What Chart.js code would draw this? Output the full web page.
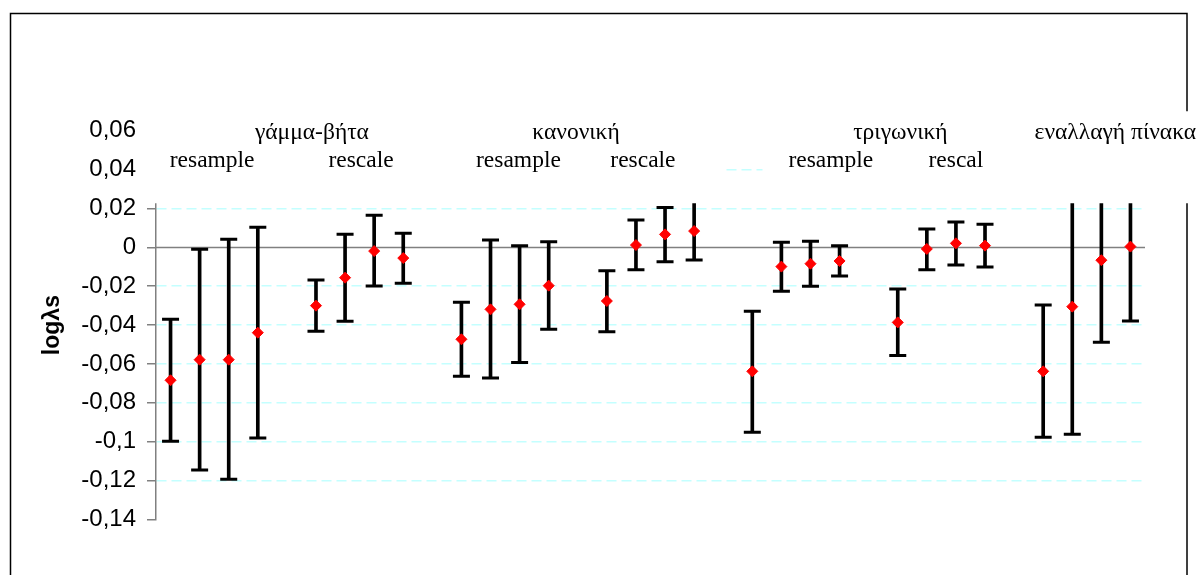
<!DOCTYPE html>
<html>
<head>
<meta charset="utf-8">
<script src="https://cdn.jsdelivr.net/npm/chart.js@4/dist/chart.umd.min.js"></script>
<style>
  html, body { margin: 0; padding: 0; background: #fff; overflow: hidden; }
  #wrap { width: 1202px; height: 575px; position: relative; }
</style>
</head>
<body>
<div id="wrap"><canvas id="c" width="1202" height="575"></canvas></div>
<script>
// Distribution groups and the two estimation methods shown above each block
const groups = ['γάμμα-βήτα', 'κανονική', 'τριγωνική', 'εναλλαγή πίνακα'];
const methods = ['resample', 'rescale', 'resample', 'rescale', 'resample', 'rescal'];

// Block order: (group, method) for each block of four estimates
const blockGroup = [0, 0, 1, 1, 2, 2, 3];
const blockMethod = ['resample', 'rescale', 'resample', 'rescale', 'resample', 'rescal', ''];

// Estimated logλs and the ends of its interval, four per block
const means = [
  -0.0684, -0.0578, -0.0578, -0.0439,
  -0.0300, -0.0156, -0.0019, -0.0055,
  -0.0473, -0.0319, -0.0293, -0.0197,
  -0.0276, 0.0012, 0.0067, 0.0084,
  -0.0638, -0.0099, -0.0084, -0.0070,
  -0.0386, -0.0008, 0.0021, 0.0009,
  -0.0638, -0.0305, -0.0066, 0.0004
];
const upper = [
  -0.0370, -0.0010, 0.0042, 0.0103,
  -0.0168, 0.0067, 0.0165, 0.0073,
  -0.0283, 0.0038, 0.0009, 0.0029,
  -0.0120, 0.0141, 0.0205, 0.0250,
  -0.0329, 0.0026, 0.0031, 0.0009,
  -0.0214, 0.0095, 0.0131, 0.0119,
  -0.0296, 0.0352, 0.0356, 0.0387
];
const lower = [
  -0.0998, -0.1146, -0.1194, -0.0981,
  -0.0432, -0.0380, -0.0199, -0.0185,
  -0.0663, -0.0672, -0.0593, -0.0421,
  -0.0434, -0.0115, -0.0074, -0.0065,
  -0.0952, -0.0226, -0.0200, -0.0147,
  -0.0557, -0.0115, -0.0091, -0.0101,
  -0.0977, -0.0962, -0.0488, -0.0379
];

// Value-axis ticks
const yTickValues = [0.06, 0.04, 0.02, 0, -0.02, -0.04, -0.06, -0.08, -0.1, -0.12, -0.14];
const yTitle = 'logλs';

// ---- layout (text placement in category / value units) ----
const PER_BLOCK = 4;
const SLOT_STRIDE = 5;             // four estimates + one empty slot
const visibleTop = 0.0227;         // plot is shown only below this value
const coverTop = 0.07;
const headRowValue = 0.0558;       // baseline of group headings
const subRowValue = 0.0415;        // baseline of method headings
const groupLabelPos = [4.86, 13.94, 25.09, 32.48];
const methodLabelPos = [1.43, 6.55, 11.96, 16.24, 22.7, 27.0];
const gapWindow = { x1: 19.05, x2: 20.35, y1: 0.044, y2: 0.036 };

const nBlocks = blockGroup.length;
const nSlots = nBlocks * SLOT_STRIDE - 1;
const slotOf = k => Math.floor(k / PER_BLOCK) * SLOT_STRIDE + (k % PER_BLOCK);
const toSlots = arr => {
  const out = new Array(nSlots).fill(null);
  arr.forEach((v, k) => { out[slotOf(k)] = v; });
  return out;
};
const slotLabels = new Array(nSlots).fill('');
means.forEach((_, k) => {
  const b = Math.floor(k / PER_BLOCK);
  slotLabels[slotOf(k)] = groups[blockGroup[b]] + (blockMethod[b] ? ' ' + blockMethod[b] : '') + ' ' + (k % PER_BLOCK + 1);
});
const ranges = means.map((_, k) => [lower[k], upper[k]]);

const fmt = v => {
  const r = Math.round(v * 100) / 100;
  return r === 0 ? '0' : String(r).replace('.', ',');
};

const SANS = "'Liberation Sans', Arial, sans-serif";
const SERIF = "'Liberation Serif', 'Times New Roman', serif";

const decor = {
  id: 'decor',
  beforeDraw(chart) {
    const c = chart.ctx;
    c.save();
    c.fillStyle = '#fff';
    c.fillRect(0, 0, chart.width, chart.height);
    c.strokeStyle = '#000';
    c.lineWidth = 1.5;
    c.strokeRect(10.5, 13.5, 1176.5, 620);
    c.restore();
  },
  beforeDatasetsDraw(chart) {
    const c = chart.ctx, a = chart.chartArea, y = chart.scales.y;
    const y0 = Math.round(y.getPixelForValue(0)) + 0.5;
    c.save();
    c.strokeStyle = '#808080';
    c.lineWidth = 1.5;
    c.beginPath();
    c.moveTo(a.left, y0);
    c.lineTo(a.right, y0);
    c.stroke();
    c.restore();
  },
  afterDatasetsDraw(chart) {
    const c = chart.ctx, a = chart.chartArea, y = chart.scales.y, x = chart.scales.x;
    // white heading band over the upper part of the plot
    const top = y.getPixelForValue(coverTop);
    const bottom = y.getPixelForValue(visibleTop);
    const left = a.left - 16;
    c.save();
    c.beginPath();
    c.rect(left, top, chart.width - left, bottom - top);
    const gx1 = x.getPixelForValue(gapWindow.x1), gx2 = x.getPixelForValue(gapWindow.x2);
    const gy1 = y.getPixelForValue(gapWindow.y1), gy2 = y.getPixelForValue(gapWindow.y2);
    c.rect(gx1, gy1, gx2 - gx1, gy2 - gy1);
    c.fillStyle = '#fff';
    c.fill('evenodd');

    // headings
    c.fillStyle = '#000';
    c.textAlign = 'center';
    c.textBaseline = 'alphabetic';
    c.font = '23.5px ' + SERIF;
    groups.forEach((g, i) => {
      c.fillText(g, x.getPixelForValue(groupLabelPos[i]), y.getPixelForValue(headRowValue));
    });
    methods.forEach((m, i) => {
      c.fillText(m, x.getPixelForValue(methodLabelPos[i]), y.getPixelForValue(subRowValue));
    });
    c.restore();
  }
};

new Chart(document.getElementById('c'), {
  data: {
    labels: slotLabels,
    datasets: [
      {
        type: 'line',
        label: yTitle,
        data: toSlots(means),
        showLine: false,
        pointStyle: 'rectRot',
        pointRadius: 5.5,
        pointBackgroundColor: '#ff0000',
        pointBorderColor: '#ff0000',
        pointBorderWidth: 1,
        order: 0
      },
      {
        type: 'line',
        label: 'upper',
        data: toSlots(upper),
        showLine: false,
        pointStyle: 'line',
        pointRadius: 8.5,
        pointBorderColor: '#000',
        pointBorderWidth: 3,
        order: 1
      },
      {
        type: 'line',
        label: 'lower',
        data: toSlots(lower),
        showLine: false,
        pointStyle: 'line',
        pointRadius: 8.5,
        pointBorderColor: '#000',
        pointBorderWidth: 3,
        order: 1
      },
      {
        type: 'bar',
        label: 'interval',
        data: toSlots(ranges),
        backgroundColor: '#000',
        borderWidth: 0,
        barThickness: 3,
        order: 2
      }
    ]
  },
  options: {
    responsive: false,
    animation: false,
    events: [],
    devicePixelRatio: 1,
    layout: { padding: { left: 0, right: 57, top: 130.8, bottom: 55.6 } },
    plugins: { legend: { display: false }, tooltip: { enabled: false } },
    scales: {
      x: {
        type: 'category',
        display: false,
        offset: true
      },
      y: {
        type: 'linear',
        min: -0.14,
        max: 0.06,
        afterBuildTicks: s => { s.ticks = yTickValues.map(v => ({ value: v })); },
        afterFit: s => { s.width = 156; },
        ticks: {
          autoSkip: false,
          color: '#000',
          padding: 11,
          font: { family: SANS, size: 24 },
          callback: v => fmt(v)
        },
        grid: {
          color: ctx => {
            const v = ctx.tick ? ctx.tick.value : 0;
            return (Math.abs(v) < 1e-9 || Math.abs(v + 0.14) < 1e-9) ? 'rgba(0,0,0,0)' : '#c4ffff';
          },
          lineWidth: 1.5,
          tickColor: '#808080',
          tickLength: 9,
          tickWidth: 1.5,
          tickBorderDash: []
        },
        border: { display: true, color: '#808080', width: 1.5, dash: [10, 5] },
        title: {
          display: true,
          text: yTitle,
          color: '#000',
          font: { family: SANS, size: 23, weight: 'bold' },
          padding: { top: 39, bottom: 0 }
        }
      }
    }
  },
  plugins: [decor]
});
</script>
</body>
</html>
